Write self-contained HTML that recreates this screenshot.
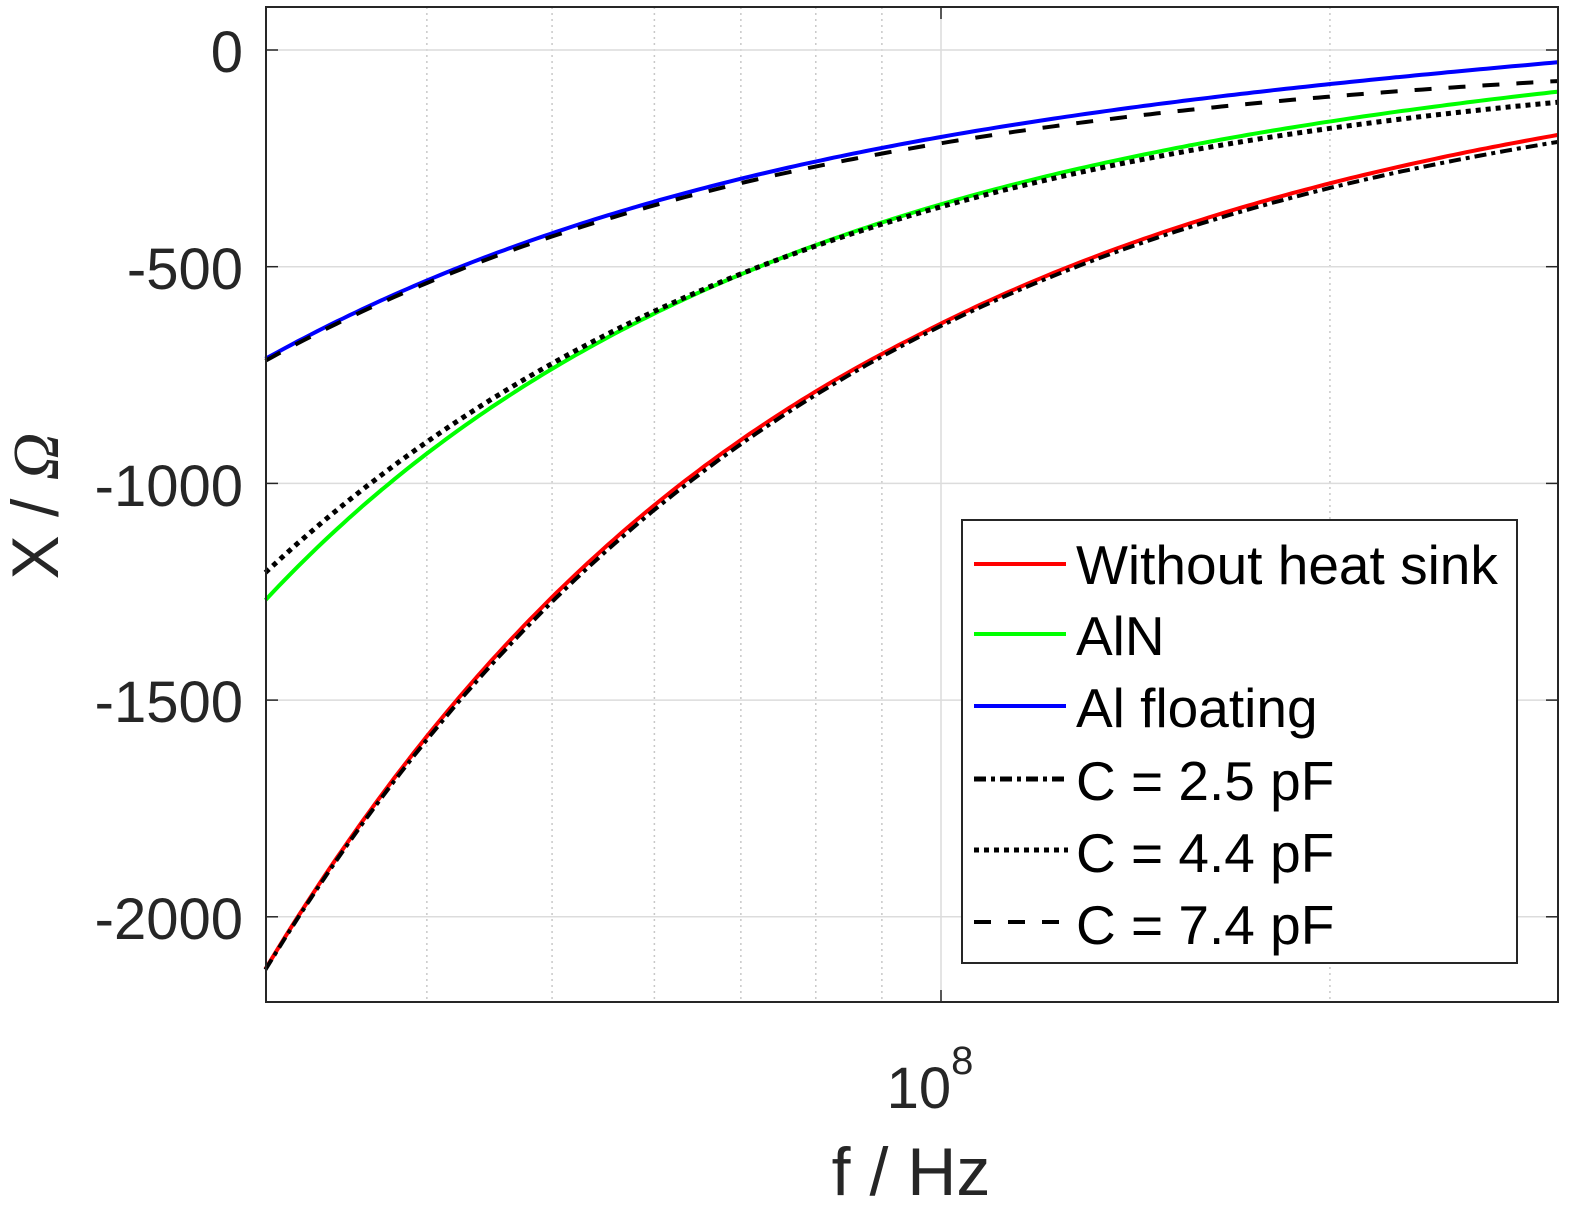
<!DOCTYPE html>
<html><head><meta charset="utf-8"><style>
html,body{margin:0;padding:0;background:#fff;}
svg{display:block;font-family:"Liberation Sans",Arial,sans-serif;}
</style></head><body>
<svg id="s" width="1579" height="1214" viewBox="0 0 1579 1214" xmlns="http://www.w3.org/2000/svg">
<rect width="1579" height="1214" fill="#fff"/>
<g id="grid"></g>
<g id="curves"></g>
<rect x="266" y="7" width="1292" height="995" fill="none" stroke="#262626" stroke-width="2"/>
<g font-size="58" fill="#262626" text-anchor="end">
<text x="243" y="72">0</text>
<text x="243" y="289">-500</text>
<text x="243" y="506">-1000</text>
<text x="243" y="722">-1500</text>
<text x="243" y="939">-2000</text>
</g>
<text x="930" y="1108" font-size="58" fill="#262626" text-anchor="middle">10<tspan font-size="40" dy="-34">8</tspan></text>
<text x="911" y="1195" font-size="68" fill="#262626" text-anchor="middle">f / Hz</text>
<text transform="translate(58,506) rotate(-90)" font-size="66" fill="#262626" text-anchor="middle">X / <tspan font-family="Liberation Serif,serif" font-style="italic">Ω</tspan></text>
<g>
<rect x="962" y="520" width="555" height="443" fill="#fff" stroke="#262626" stroke-width="2"/>
<g stroke-width="4" fill="none">
<line x1="974" y1="564" x2="1066" y2="564" stroke="#f00"/>
<line x1="974" y1="634" x2="1066" y2="634" stroke="#0f0"/>
<line x1="974" y1="706" x2="1066" y2="706" stroke="#00f"/>
<line x1="974" y1="779" x2="1068" y2="779" stroke="#000" stroke-width="5" stroke-dasharray="12 5 4 5"/>
<line x1="974" y1="850" x2="1068" y2="850" stroke="#000" stroke-width="5" stroke-dasharray="5 5"/>
<line x1="974" y1="922" x2="1068" y2="922" stroke="#000" stroke-width="4" stroke-dasharray="17 17"/>
</g>
<g font-size="55" fill="#000">
<text x="1076" y="584">Without heat sink</text>
<text x="1076" y="655">AlN</text>
<text x="1076" y="727">Al floating</text>
<text x="1076" y="800">C = 2.5 pF</text>
<text x="1076" y="872">C = 4.4 pF</text>
<text x="1076" y="944">C = 7.4 pF</text>
</g>
</g>
</svg>
<script>
var NS="http://www.w3.org/2000/svg";
function X(f){return 941+1292*Math.log10(f/1e8);}
function Y(v){return 50-v*216.7/500;}
var g=document.getElementById('grid');
function ln(p,x1,y1,x2,y2,st,da){var l=document.createElementNS(NS,'line');l.setAttribute('x1',x1);l.setAttribute('y1',y1);l.setAttribute('x2',x2);l.setAttribute('y2',y2);l.setAttribute('stroke',st);l.setAttribute('stroke-width',1.5);if(da)l.setAttribute('stroke-dasharray',da);p.appendChild(l);}
[4e7,5e7,6e7,7e7,8e7,9e7,2e8].forEach(function(f){ln(g,X(f),7,X(f),1002,'#c8c8c8','2 4');});
ln(g,941,7,941,1002,'#dcdcdc');
[0,-500,-1000,-1500,-2000].forEach(function(v){ln(g,266,Y(v),1558,Y(v),'#dcdcdc');});
[0,-500,-1000,-1500,-2000].forEach(function(v){ln(g,266,Y(v),278,Y(v),'#262626');ln(g,1546,Y(v),1558,Y(v),'#262626');});
ln(g,941,1002,941,990,'#262626');ln(g,941,7,941,19,'#262626');
var c=document.getElementById('curves');
function curve(C,L,col,w,da,wig){var pts=[];for(var i=0;i<=200;i++){var f=3e7*Math.pow(10,i/200);var o=2*Math.PI*f;var v=-1/(o*C)+o*L;if(wig)v+=wig(f);pts.push(X(f).toFixed(1)+','+Y(v).toFixed(1));}
var p=document.createElementNS(NS,'polyline');p.setAttribute('points',pts.join(' '));p.setAttribute('fill','none');p.setAttribute('stroke',col);p.setAttribute('stroke-width',w);if(da)p.setAttribute('stroke-dasharray',da);c.appendChild(p);}
curve(2.5e-12,8.5e-9,'#f00',4,null,function(f){var t=Math.log10(f/3e7);return 8*Math.sin(Math.PI*t/0.5)*(t<0.5?1:0);});
curve(4.4e-12,13e-9,'#0f0',4,null,function(f){var t=Math.log10(f/3e7);return -66*Math.exp(-t/0.16);});
curve(7.4e-12,23e-9,'#00f',4);
curve(2.5e-12,0,'#000',4,'12 5 4 5');
curve(4.4e-12,0,'#000',5,'5 5');
curve(7.4e-12,0,'#000',4,'17 17');
</script>
</body></html>
